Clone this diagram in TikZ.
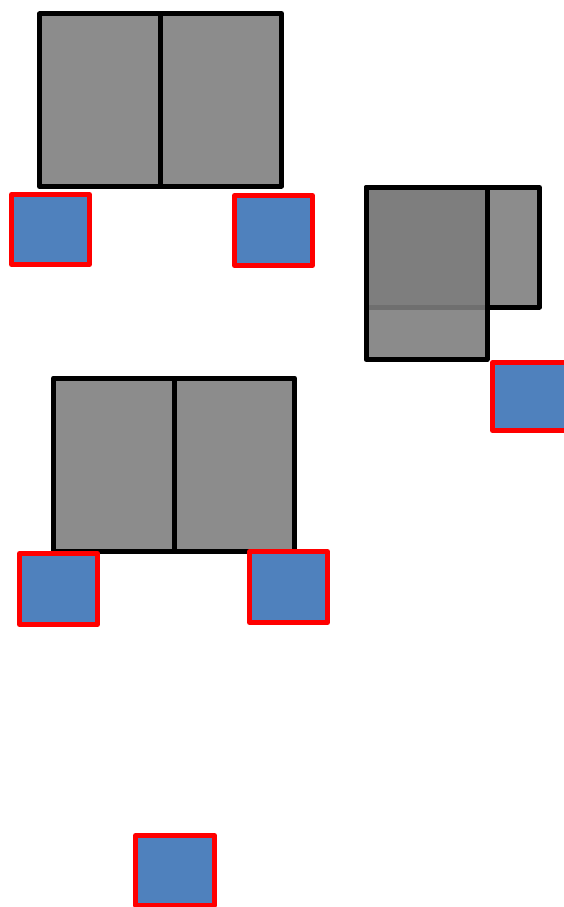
\documentclass[tikz,border=0pt]{standalone}
\usepackage{tikz}
\definecolor{deskgray}{HTML}{8C8C8C}
\definecolor{chairblue}{HTML}{4F81BD}

\begin{document}
\begin{tikzpicture}[x=1pt,y=-1pt]
\tikzset{desk/.style={draw=black, fill=deskgray, line width=5pt, line join=round}}
\tikzset{topdesk/.style={desk, fill=gray!98!black, fill opacity=0.89}}
\tikzset{chair/.style={draw=red, fill=chairblue, line width=5pt, line join=round}}
\useasboundingbox (0,0) rectangle (563,907);
% upper pair
\draw[desk] (39.5,14) rectangle (160.5,186.5);
\draw[desk] (160.5,13.5) rectangle (281.5,186);
\draw[chair] (11.5,194.5) rectangle (89.5,264.5);
\draw[chair] (234.5,195.5) rectangle (312.5,265.5);
% corner group
\draw[desk] (366,187.5) rectangle (539.5,307);
\draw[topdesk] (366,187.5) rectangle (487,359.5);
\draw[chair] (492.5,362.5) rectangle (570.5,430.5);
% lower pair
\draw[desk] (53.5,378) rectangle (174,551.5);
\draw[desk] (174,378) rectangle (294.5,551.5);
\draw[chair] (19.5,553.5) rectangle (97.5,624.5);
\draw[chair] (249.5,551.5) rectangle (327.5,622.5);
% single
\draw[chair] (135.5,835.5) rectangle (214.5,905.5);
\end{tikzpicture}
\end{document}
